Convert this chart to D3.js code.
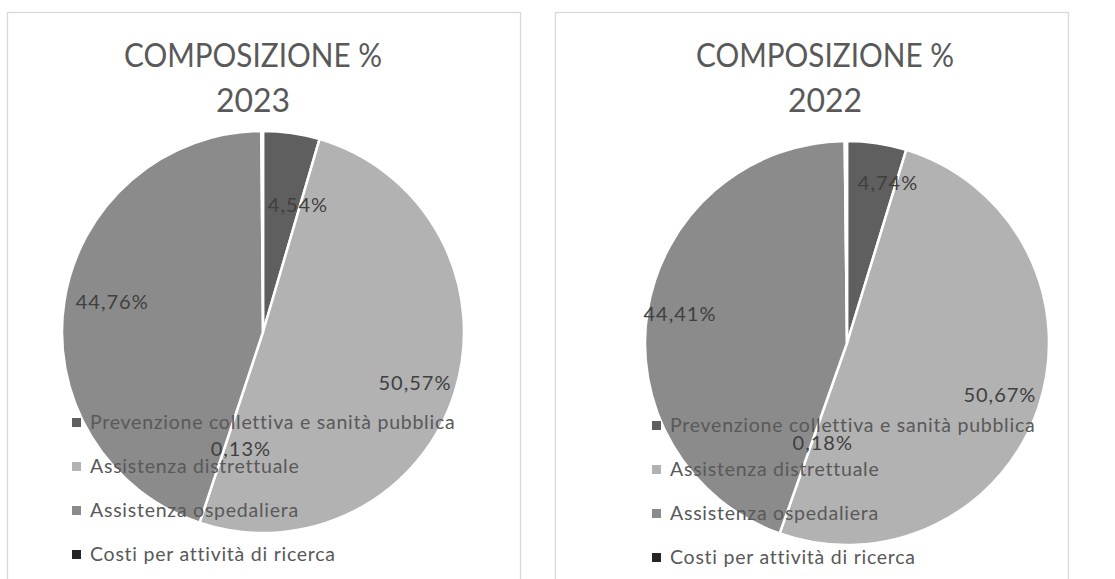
<!DOCTYPE html>
<html>
<head>
<meta charset="utf-8">
<script src="https://cdn.jsdelivr.net/npm/d3@7"></script>
<style>
  body { margin: 0; background: #fff; }
  text { font-family: Lato, "Open Sans", sans-serif; }
</style>
</head>
<body>
<svg id="chart" width="1115" height="579"></svg>
<script>
// data
const categories = [
  "Prevenzione collettiva e sanità pubblica",
  "Assistenza distrettuale",
  "Assistenza ospedaliera",
  "Costi per attività di ricerca"
];
const years = ["2023", "2022"];
const values2023 = [4.54, 50.57, 44.76, 0.13];
const values2022 = [4.74, 50.67, 44.41, 0.18];
const colors = ["#5f5f5f", "#b2b2b2", "#8b8b8b", "#262626"];

// layout for the two panels (label offsets in radius units)
const panels = [
  { values: values2023, year: years[0], box: 7.5, cx: 263, cy: 332, r: 201, titleX: 253,
    legendX: 72, legendY: 422,
    labelOff: [[0.174, -0.632], [0.756, 0.254], [-0.75, -0.149], [-0.11, 0.58]] },
  { values: values2022, year: years[1], box: 555.5, cx: 847, cy: 343, r: 202, titleX: 825,
    legendX: 652, legendY: 425,
    labelOff: [[0.203, -0.792], [0.757, 0.257], [-0.827, -0.144], [-0.12, 0.495]] }
];

const svg = d3.select("#chart");
const fmt = v => d3.format(".2f")(v).replace(".", ",") + "%";

panels.forEach(p => {
  const g = svg.append("g");

  g.append("rect")
    .attr("x", p.box).attr("y", 12.5)
    .attr("width", 513).attr("height", 620)
    .attr("fill", "#fff")
    .attr("stroke", "#d9d9d9").attr("stroke-width", 1.3);

  const title = g.append("text")
    .attr("text-anchor", "middle")
    .attr("fill", "#595959")
    .attr("font-size", 32);
  title.append("tspan").attr("x", p.titleX).attr("y", 67)
    .attr("textLength", 258).attr("lengthAdjust", "spacingAndGlyphs")
    .text("COMPOSIZIONE %");
  title.append("tspan").attr("x", p.titleX).attr("y", 112).text(p.year);

  const pie = d3.pie().sort(null).value(d => d)(p.values);
  const arc = d3.arc().innerRadius(0).outerRadius(p.r);

  const pg = g.append("g").attr("transform", "translate(" + p.cx + "," + p.cy + ")");
  pg.selectAll("path")
    .data(pie)
    .join("path")
    .attr("d", arc)
    .attr("fill", (d, i) => colors[i])
    .attr("stroke", "#fff")
    .attr("stroke-width", 2.5);

  // legend sits on top of the pie, as in the original
  const lg = g.append("g");
  categories.forEach((c, i) => {
    const y = p.legendY + i * 44;
    lg.append("rect")
      .attr("x", p.legendX).attr("y", y - 4)
      .attr("width", 9).attr("height", 9)
      .attr("fill", colors[i]);
    lg.append("text")
      .attr("x", p.legendX + 18).attr("y", y + 7)
      .attr("fill", "#595959")
      .attr("font-size", 19.5)
      .attr("letter-spacing", 0.75)
      .text(c);
  });

  pg.selectAll("text.lbl")
    .data(pie)
    .join("text")
    .attr("class", "lbl")
    .attr("x", (d, i) => p.labelOff[i][0] * p.r)
    .attr("y", (d, i) => p.labelOff[i][1] * p.r + 7)
    .attr("text-anchor", "middle")
    .attr("fill", "#404040")
    .attr("font-size", 20)
    .attr("letter-spacing", 1)
    .text(d => fmt(d.data));
});
</script>
</body>
</html>
